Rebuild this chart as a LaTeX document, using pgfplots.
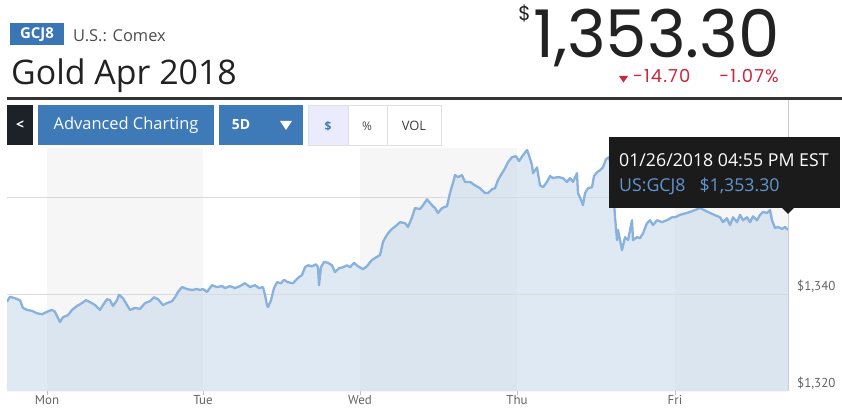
\documentclass[border=0pt]{standalone}
\usepackage{fontspec}
\setmainfont{Open Sans}
\newfontfamily\numfont{Poppins}
\newfontfamily\tickfont{PT Sans}
\usepackage{pgfplots}
\pgfplotsset{compat=1.18}
\usepackage{pgfplotstable}

\definecolor{badge}{RGB}{58,118,181}
\definecolor{btn}{RGB}{62,122,184}
\definecolor{darkbtn}{RGB}{28,34,40}
\definecolor{redtxt}{RGB}{199,40,60}
\definecolor{linecol}{RGB}{136,177,222}
\definecolor{areacol}{RGB}{200,218,236}
\definecolor{band}{RGB}{246,246,246}
\definecolor{gridc}{RGB}{218,218,218}
\definecolor{tipbg}{RGB}{27,27,27}
\definecolor{tipblue}{RGB}{95,150,205}
\definecolor{ticktxt}{RGB}{100,100,100}
\definecolor{titletxt}{RGB}{34,34,34}

\pgfplotstableread{
x y
7 1338.5
10 1339.5
15 1339.2
20 1338.8
23 1337.2
27 1336.8
32 1336.6
37 1336.1
42 1335.9
47 1336.4
52 1336.8
55 1336.4
58 1335.1
60 1334.3
63 1335.3
68 1335.7
72 1336.8
77 1337.6
82 1338.2
86 1338.8
90 1338.4
95 1337.8
100 1336.8
103 1337.8
107 1339.0
110 1338.8
113 1337.6
117 1338.8
119 1339.9
123 1339.2
127 1337.8
130 1336.8
135 1337.2
140 1337.0
145 1338.2
150 1338.6
154 1339.4
158 1339.0
163 1337.8
167 1338.2
172 1338.6
175 1339.4
178 1340.5
182 1341.5
187 1341.1
192 1340.9
197 1341.1
200 1340.9
203 1341.1
207 1340.5
212 1341.9
217 1341.5
222 1341.7
225 1341.3
230 1341.7
235 1341.3
240 1341.7
245 1342.3
250 1341.5
255 1341.9
259 1341.3
263 1341.5
265 1339.9
267 1337.8
268 1337.4
271 1338.8
274 1341.3
277 1342.5
281 1342.3
284 1343.0
288 1342.5
293 1342.3
298 1343.4
302 1344.0
305 1345.6
308 1346.0
312 1345.8
316 1346.2
318 1345.6
319 1341.9
321 1345.6
324 1346.7
328 1346.5
332 1346.0
335 1344.6
339 1345.4
343 1345.6
347 1346.0
350 1345.6
354 1346.5
358 1345.8
363 1345.2
367 1345.8
371 1346.9
375 1347.5
380 1348.1
383 1350.8
385 1351.6
388 1352.6
392 1353.5
397 1354.3
400 1354.9
405 1354.7
408 1353.9
412 1355.9
415 1357.8
420 1357.6
423 1358.4
427 1359.6
432 1358.4
435 1357.8
438 1356.8
442 1357.8
447 1358.2
450 1360.9
453 1363.0
455 1364.6
458 1364.2
462 1364.6
465 1363.2
470 1363.2
475 1362.5
480 1361.9
485 1360.9
488 1360.9
492 1361.7
495 1361.9
498 1363.6
502 1365.0
505 1366.0
508 1367.3
512 1368.3
516 1368.5
519 1367.5
523 1368.7
527 1369.8
529 1368.7
532 1366.7
533 1365.0
537 1366.2
540 1362.5
543 1362.1
547 1363.2
550 1364.4
553 1364.0
558 1364.2
563 1364.0
567 1363.2
570 1364.0
573 1363.2
577 1365.0
578 1360.9
582 1359.0
583 1358.4
585 1360.9
588 1361.9
592 1362.1
594 1364.4
597 1365.2
600 1365.6
603 1366.2
606 1367.9
609 1368.3
612 1365.6
615 1356.0
617 1351.2
618 1353.3
622 1349.1
625 1351.8
628 1351.2
632 1355.3
633 1351.2
637 1351.8
640 1351.6
643 1352.6
647 1354.7
650 1355.3
653 1354.3
657 1355.3
662 1354.9
667 1355.3
672 1355.9
675 1355.9
680 1356.4
690 1357.0
700 1357.8
710 1356.8
720 1355.9
723 1354.9
727 1355.7
730 1354.3
733 1355.9
737 1354.9
740 1356.4
743 1355.3
747 1355.9
750 1354.9
753 1356.1
757 1355.3
760 1356.4
763 1357.0
767 1356.8
770 1357.4
772 1355.3
775 1353.7
778 1353.9
782 1353.5
785 1353.9
788 1353.3
}\gold

\begin{document}
\begin{tikzpicture}
\useasboundingbox (0,0) rectangle (842bp,410bp);

\begin{axis}[
  at={(7bp,18.7bp)}, anchor=south west,
  width=781bp, height=243.3bp, scale only axis,
  xmin=7, xmax=788, ymin=1320, ymax=1370.2,
  axis line style={draw=none},
  xtick={47,203,360,517,675}, xticklabels={Mon,Tue,Wed,Thu,Fri},
  ytick={1320,1340,1360}, yticklabels={{\$1,320},{\$1,340},{\$1,360}},
  xtick pos=left, ytick pos=right, yticklabel pos=right,
  tick align=outside, major tick length=4bp,
  x tick style={color=black!25, line width=0.6bp},
  y tick style={draw=none},
  ticklabel style={font=\tickfont\fontsize{13}{13}\selectfont, text=ticktxt, inner sep=0pt},
  xticklabel style={anchor=base, yshift=-8.7bp},
  yticklabel style={anchor=base west, xshift=5bp, yshift=3.5bp},
]
\fill[band] (axis cs:47,1320) rectangle (axis cs:203,1370.2);
\fill[band] (axis cs:360,1320) rectangle (axis cs:517,1370.2);
\fill[band] (axis cs:675,1320) rectangle (axis cs:788,1370.2);
\addplot[draw=none, fill=areacol, fill opacity=0.6] table[x=x,y=y] {\gold} \closedcycle;
\draw[gridc, line width=0.8bp] (axis cs:7,1340) -- (axis cs:788,1340);
\draw[gridc, line width=0.8bp] (axis cs:7,1360) -- (axis cs:788,1360);
\addplot[linecol, line width=2.3bp, line join=round] table[x=x,y=y] {\gold};
\end{axis}

\begin{scope}[yshift=410bp, x=1bp, y=-1bp]
% right border line
\draw[black!20, line width=0.8bp] (788,100) -- (788,391.3);
% header
\fill[badge] (10,23) rectangle (64,45);
\node[text=white, font=\bfseries\fontsize{15}{15}\selectfont, inner sep=0] at (37,34.5) {GCJ8};
\node[anchor=base west, inner sep=0, text=black!70, font=\fontsize{16.5}{16.5}\selectfont] at (73,42) {U.S.: Comex};
\node[anchor=base west, inner sep=0, text=titletxt, font=\fontsize{34}{34}\selectfont] at (11,85) {Gold Apr 2018};
\fill[black!80] (7,97) rectangle (842,100);
% price
\node[anchor=base east, inner sep=0, text=titletxt, font=\numfont\fontsize{66}{66}\selectfont] at (780,58) {\smash{1,353.30}};
\node[anchor=base east, inner sep=0, text=titletxt, font=\numfont\fontsize{20}{20}\selectfont] at (531,21) {\$};
\fill[redtxt] (619,76) -- (628,76) -- (623.5,82.5) -- cycle;
\node[anchor=base west, inner sep=0, text=redtxt, font=\numfont\fontsize{18}{18}\selectfont\addfontfeature{LetterSpace=6}] at (633,83) {-14.70};
\node[anchor=base east, inner sep=0, text=redtxt, font=\numfont\fontsize{18}{18}\selectfont\addfontfeature{LetterSpace=6}] at (779,83) {-1.07\%};
% buttons
\fill[darkbtn] (7,105) rectangle (33,145);
\node[text=white, font=\bfseries\fontsize{14}{14}\selectfont, inner sep=0] at (20,125) {<};
\fill[btn] (38,105) rectangle (214,145);
\node[text=white, font=\fontsize{16.5}{16.5}\selectfont, inner sep=0] at (126,125) {Advanced Charting};
\fill[btn] (219,105) rectangle (303,145);
\node[text=white, font=\bfseries\fontsize{14}{14}\selectfont, inner sep=0] at (241,125) {5D};
\fill[white] (280,121) -- (292,121) -- (286,130) -- cycle;
\filldraw[fill=black!5!blue!8, draw=black!12, line width=0.8bp] (308,105) rectangle (348,145);
\draw[draw=black!12, fill=white, line width=0.8bp] (348,105) rectangle (387,145);
\draw[draw=black!12, fill=white, line width=0.8bp] (387,105) rectangle (441,145);
\node[text=btn, font=\bfseries\fontsize{12}{12}\selectfont, inner sep=0] at (328,126) {\$};
\node[text=black!70, font=\fontsize{12}{12}\selectfont, inner sep=0] at (367,126) {\%};
\node[text=black!75, font=\fontsize{13}{13}\selectfont, inner sep=0] at (414,126) {VOL};
% tooltip
\fill[tipbg] (609,137) rectangle (840,208);
\fill[tipbg] (781,207) -- (795,207) -- (788,214) -- cycle;
\node[anchor=base west, inner sep=0, text=white, font=\fontsize{17.8}{17.8}\selectfont] at (619,167) {01/26/2018 04:55 PM EST};
\node[anchor=base west, inner sep=0, text=tipblue, font=\fontsize{17.8}{17.8}\selectfont] at (619,192) {US:GCJ8\hspace{14bp}\$1,353.30};
\end{scope}
\end{tikzpicture}
\end{document}
